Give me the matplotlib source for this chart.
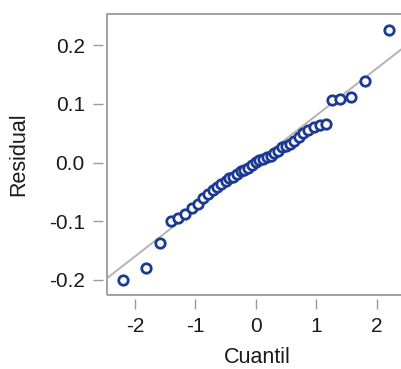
import matplotlib.pyplot as plt
from matplotlib.patches import Rectangle

plt.rcParams['font.family'] = ['Liberation Sans', 'DejaVu Sans']
plt.rcParams['axes.unicode_minus'] = False

# theoretical quantiles and residuals
cuantil = [-2.20, -1.81, -1.58, -1.40, -1.28, -1.17, -1.06, -0.96, -0.87,
           -0.79, -0.71, -0.64, -0.57, -0.50, -0.44, -0.37, -0.31, -0.25,
           -0.19, -0.12, -0.06, 0.00, 0.06, 0.12, 0.19, 0.25, 0.31, 0.37,
           0.44, 0.50, 0.57, 0.64, 0.71, 0.79, 0.87, 0.96, 1.06, 1.17,
           1.27, 1.40, 1.58, 1.81, 2.20]
residual = [-0.200, -0.180, -0.137, -0.100, -0.095, -0.088, -0.078, -0.070,
            -0.060, -0.053, -0.047, -0.042, -0.037, -0.031, -0.027, -0.024,
            -0.019, -0.015, -0.012, -0.009, -0.005, 0.001, 0.004, 0.006,
            0.009, 0.011, 0.016, 0.020, 0.026, 0.028, 0.031, 0.036, 0.043,
            0.050, 0.056, 0.060, 0.064, 0.066, 0.107, 0.108, 0.111, 0.138,
            0.226]

# reference line (qqline)
line_x = [-3, 3]
line_y = [-0.24, 0.24]

xticks = [-2, -1, 0, 1, 2]
yticks = [-0.2, -0.1, 0.0, 0.1, 0.2]
yticklabels = ["-0.2", "-0.1", "0.0", "0.1", "0.2"]

fig = plt.figure(figsize=(4.01, 3.69), dpi=100)
ax = fig.add_axes([0.267, 0.2005, 0.7475, 0.7615])

ax.plot(line_x, line_y, color="#b4b4b4", lw=1.4, zorder=1)
ax.plot(cuantil, residual, ls="none", marker="o", ms=6.8, mfc="white",
        mec="#1c3a94", mew=2.0, zorder=2)

ax.set_xlim(-2.46, 2.5)
ax.set_ylim(-0.2256, 0.2528)

# R-like axes: box plus ticks detached from it
for s in ["bottom", "left"]:
  ax.spines[s].set_position(("outward", 3))
  ax.spines[s].set_visible(False)
for s in ["top", "right"]:
  ax.spines[s].set_visible(False)
ax.add_patch(Rectangle((0, 0), 1, 1, transform=ax.transAxes, fill=False,
                       ec="#9a9a9a", lw=1.3, clip_on=False, zorder=3))

ax.set_xticks(xticks)
ax.set_yticks(yticks)
ax.set_yticklabels(yticklabels)
ax.tick_params(length=7, width=1, color="#9a9a9a", labelsize=15,
               labelcolor="#1a1a1a", pad=6)

ax.set_xlabel("Cuantil", fontsize=15.5, color="#1a1a1a", labelpad=8)
ax.set_ylabel("Residual", fontsize=15.5, color="#1a1a1a", labelpad=14)

fig.savefig("out.png", dpi=100)
